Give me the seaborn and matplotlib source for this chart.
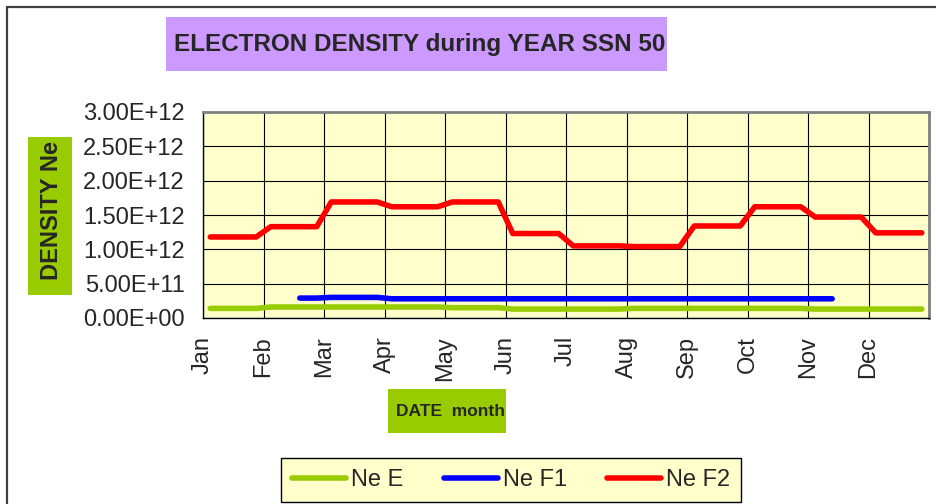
import numpy as np
import pandas as pd
import matplotlib
matplotlib.use("Agg")
import matplotlib.pyplot as plt
from matplotlib.patches import Rectangle
import seaborn as sns

# monthly electron density values (el/m3)
months = ["Jan", "Feb", "Mar", "Apr", "May", "Jun",
          "Jul", "Aug", "Sep", "Oct", "Nov", "Dec"]
ne_e = [0.14e12, 0.16e12, 0.16e12, 0.16e12, 0.15e12, 0.13e12,
        0.13e12, 0.14e12, 0.14e12, 0.14e12, 0.13e12, 0.13e12]
ne_f1 = [np.nan, 0.29e12, 0.30e12, 0.28e12, 0.28e12, 0.28e12,
         0.28e12, 0.28e12, 0.28e12, 0.28e12, 0.28e12, np.nan]
ne_f2 = [1.18e12, 1.33e12, 1.69e12, 1.62e12, 1.69e12, 1.23e12,
         1.05e12, 1.04e12, 1.34e12, 1.62e12, 1.47e12, 1.24e12]
# F1 layer only present from mid Feb to mid Nov (in months from 1 Jan)
f1_start, f1_end = 1.6, 10.4

series_names = ["Ne E", "Ne F1", "Ne F2"]
colors = ["#99CC00", "#0000FF", "#FF0000"]


def build_frame():
    """Each monthly value is held flat over the month, with a short ramp between months."""
    rows = []
    for name, vals in zip(series_names, [ne_e, ne_f1, ne_f2]):
        for i, v in enumerate(vals):
            if np.isnan(v):
                continue
            for x in (i + 0.12, i + 0.88):
                if name == "Ne F1":
                    x = min(max(x, f1_start), f1_end)
                rows.append({"month": x, "density": v, "series": name})
    return pd.DataFrame(rows)


df = build_frame()

sns.set_style("white")
plt.rcParams["font.family"] = ["Liberation Sans", "DejaVu Sans"]

W, H = 936, 504
fig = plt.figure(figsize=(W / 100, H / 100), dpi=100)


def fx(px):
    return px / W


def fy(py):
    return 1 - py / H


ax = fig.add_axes([fx(203), fy(318), fx(929) - fx(203), fy(112) - fy(318)])
ax.set_facecolor("#FFFFCC")

sns.lineplot(data=df, x="month", y="density", hue="series", hue_order=series_names,
             palette=colors, linewidth=4, sort=False, ax=ax, legend=False,
             solid_capstyle="round")

ax.set_xlim(0, 12)
ax.set_ylim(0, 3e12)
ax.set_xticks(np.arange(13))
ax.set_xticklabels(months + [""], rotation=90, fontsize=17)
ax.set_yticks(np.arange(0, 3.01e12, 0.5e12))
ax.set_yticklabels([format(v, ".2E") for v in np.arange(0, 3.01e12, 0.5e12)], fontsize=17)
ax.tick_params(axis="both", direction="out", length=5, width=1, color="black", pad=8)
ax.grid(True, color="black", linewidth=0.8)
ax.set_xlabel("")
ax.set_ylabel("")

for side in ["left", "bottom"]:
    ax.spines[side].set_color("black")
    ax.spines[side].set_linewidth(1)
for side in ["top", "right"]:
    ax.spines[side].set_color("#808080")
    ax.spines[side].set_linewidth(2)

# outer chart border (left and top)
fig.add_artist(plt.Line2D([fx(7), fx(7)], [0, fy(7)], color="#404040", linewidth=1.6))
fig.add_artist(plt.Line2D([fx(7), 1], [fy(7), fy(7)], color="#404040", linewidth=1.6))

# title box
fig.add_artist(Rectangle((fx(166), fy(71)), fx(667) - fx(166), fy(17) - fy(71),
                         transform=fig.transFigure, facecolor="#CC99FF", edgecolor="none"))
fig.text(fx(420), fy(45), "ELECTRON DENSITY during YEAR SSN 50", ha="center", va="center",
         fontsize=17.5, fontweight="bold")

# y label box
fig.add_artist(Rectangle((fx(28), fy(295)), fx(72) - fx(28), fy(137) - fy(295),
                         transform=fig.transFigure, facecolor="#99CC00", edgecolor="none"))
fig.text(fx(51), fy(210), "DENSITY Ne", ha="center", va="center", rotation=90,
         fontsize=17, fontweight="bold")

# x label box
fig.add_artist(Rectangle((fx(388), fy(433)), fx(506) - fx(388), fy(389) - fy(433),
                         transform=fig.transFigure, facecolor="#99CC00", edgecolor="none"))
fig.text(fx(450), fy(411), "DATE  month", ha="center", va="center",
         fontsize=12.5, fontweight="bold")

handles = [plt.Line2D([], [], color=c, linewidth=4, solid_capstyle="round") for c in colors]
leg = fig.legend(handles, series_names, loc="center", bbox_to_anchor=(fx(511), fy(480)),
                 ncol=3, fontsize=17, frameon=True, fancybox=False, facecolor="#FFFFCC",
                 edgecolor="black", handlelength=2.3, handletextpad=0.2, columnspacing=1.7,
                 borderpad=0.45)
leg.get_frame().set_linewidth(1)
leg.get_frame().set_alpha(1)

fig.savefig("out.png", dpi=100, facecolor="white")
